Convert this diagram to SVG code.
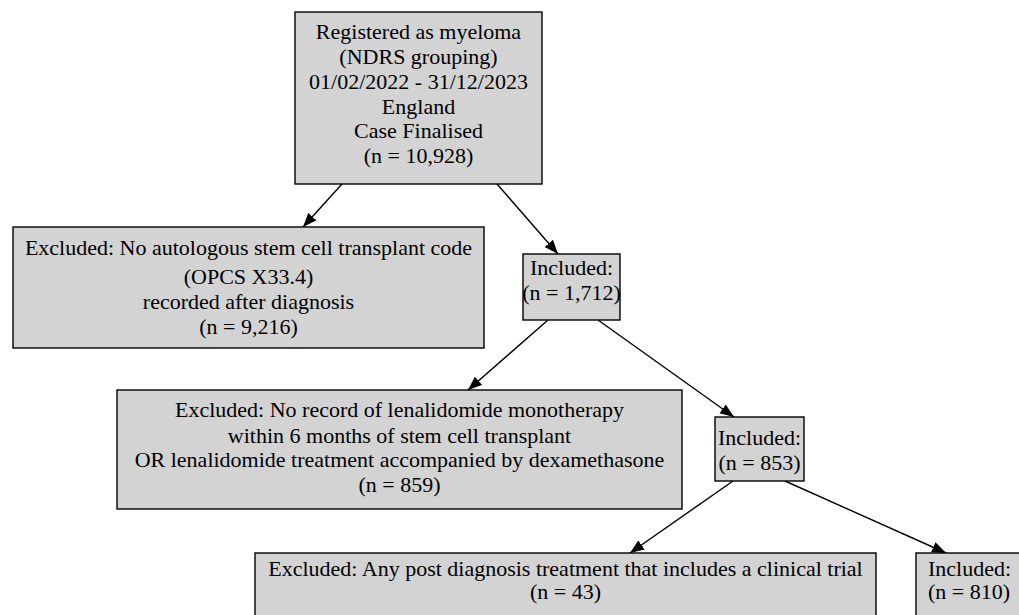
<svg xmlns="http://www.w3.org/2000/svg" width="1019" height="615" viewBox="0 0 1019 615">
<style>
.box{fill:#d3d3d3;stroke:#000;stroke-width:1.4}
.t{font-family:"Liberation Serif","Times New Roman",serif;font-size:22px;fill:#000;text-anchor:middle}
.e{stroke:#000;stroke-width:1.4;fill:none;marker-end:url(#ah)}
</style>
<defs>
<marker id="ah" markerUnits="userSpaceOnUse" markerWidth="16" markerHeight="12" refX="14" refY="6" orient="auto">
<path d="M0,0.5 L14,6 L0,11.5 Z" fill="#000"/>
</marker>
</defs>
<rect width="1019" height="615" fill="#fff"/>
<g id="connectors">
<line class="e" x1="342" y1="184" x2="303" y2="227"/>
<line class="e" x1="497" y1="184" x2="558" y2="254"/>
<line class="e" x1="548" y1="320" x2="468" y2="390"/>
<line class="e" x1="598" y1="320" x2="734" y2="417"/>
<line class="e" x1="733" y1="481" x2="630" y2="553"/>
<line class="e" x1="785" y1="481" x2="946" y2="553"/>
</g>
<g id="n_start">
<rect class="box" x="295" y="12" width="247" height="172"/>
<text class="t" x="418.5" y="39">Registered as myeloma</text>
<text class="t" x="418.5" y="64">(NDRS grouping)</text>
<text class="t" x="418.5" y="89">01/02/2022 - 31/12/2023</text>
<text class="t" x="418.5" y="114">England</text>
<text class="t" x="418.5" y="138">Case Finalised</text>
<text class="t" x="418.5" y="163">(n = 10,928)</text>
</g>
<g id="n_excl1">
<rect class="box" x="13" y="227" width="471" height="121"/>
<text class="t" x="248.5" y="255">Excluded: No autologous stem cell transplant code</text>
<text class="t" x="248.5" y="284">(OPCS X33.4)</text>
<text class="t" x="248.5" y="309">recorded after diagnosis</text>
<text class="t" x="248.5" y="334">(n = 9,216)</text>
</g>
<g id="n_incl1">
<rect class="box" x="523" y="254" width="97" height="66"/>
<text class="t" x="571.5" y="275">Included:</text>
<text class="t" x="571.5" y="300">(n = 1,712)</text>
</g>
<g id="n_excl2">
<rect class="box" x="117" y="390" width="565" height="119"/>
<text class="t" x="399.5" y="417">Excluded: No record of lenalidomide monotherapy</text>
<text class="t" x="399.5" y="443">within 6 months of stem cell transplant</text>
<text class="t" x="399.5" y="467">OR lenalidomide treatment accompanied by dexamethasone</text>
<text class="t" x="399.5" y="492">(n = 859)</text>
</g>
<g id="n_incl2">
<rect class="box" x="715" y="417" width="89" height="64"/>
<text class="t" x="759.5" y="445">Included:</text>
<text class="t" x="759.5" y="470">(n = 853)</text>
</g>
<g id="n_excl3">
<rect class="box" x="255" y="553" width="621" height="70"/>
<text class="t" x="565.5" y="576">Excluded: Any post diagnosis treatment that includes a clinical trial</text>
<text class="t" x="565.5" y="599">(n = 43)</text>
</g>
<g id="n_incl3">
<rect class="box" x="916" y="553" width="110" height="70"/>
<text class="t" x="928" y="576" style="text-anchor:start">Included:</text>
<text class="t" x="928" y="599" style="text-anchor:start">(n = 810)</text>
</g>
</svg>
